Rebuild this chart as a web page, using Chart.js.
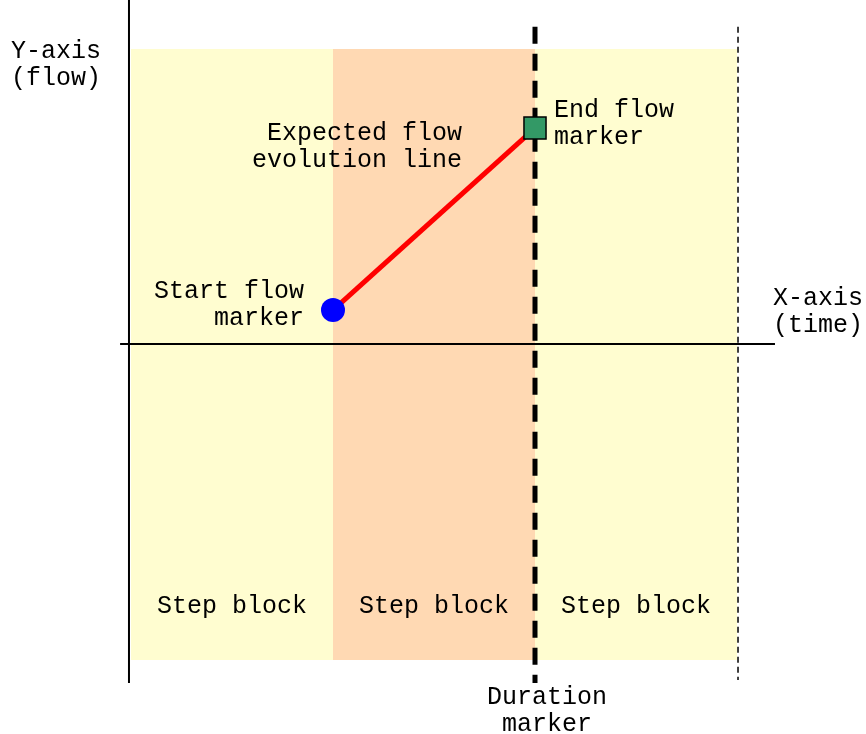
<!DOCTYPE html>
<html>
<head>
<meta charset="utf-8">
<script src="https://cdn.jsdelivr.net/npm/chart.js@4"></script>
<style>
html,body{margin:0;padding:0;background:#fff;}
#wrap{width:866px;height:734px;}
</style>
</head>
<body>
<div id="wrap"><canvas id="c" width="866" height="734"></canvas></div>
<script>
// ---- data ----
const stepStarts = [0, 1, 2];
const stepEnds = [1, 2, 3];
const stepTop = 1.0;
const stepBottom = -1.071;
const stepLabels = ["Step block", "Step block", "Step block"];
const startFlow = {x: 1, y: 0.115};
const endFlow = {x: 2, y: 0.732};
const durationX = 2;
const horizonX = 3.005;
const axisLabelY = ["Y-axis", "(flow)"];
const axisLabelX = ["X-axis", "(time)"];
const lineLabel = ["Expected flow", "evolution line"];
const startLabel = ["Start flow", "marker"];
const endLabel = ["End flow", "marker"];
const durationLabel = ["Duration", "marker"];

const stepColors = ["#FFFDD0", "#FFD9B3", "#FFFDD0"];

const datasets = [];
stepStarts.forEach((s, i) => {
  datasets.push({
    type: 'line',
    data: [{x: s, y: stepTop}, {x: stepEnds[i], y: stepTop}],
    borderWidth: 0, borderColor: 'rgba(0,0,0,0)',
    backgroundColor: stepColors[i],
    pointRadius: 0,
    fill: {value: stepBottom},
    order: 20
  });
});
// axes
datasets.push({type:'line', data:[{x:-0.01,y:1.166},{x:-0.01,y:-1.149}], borderColor:'#000', borderWidth:2, pointRadius:0, fill:false, order:10});
datasets.push({type:'line', data:[{x:-0.054,y:0},{x:3.188,y:0}], borderColor:'#000', borderWidth:2, pointRadius:0, fill:false, order:10});
// horizon dashed
datasets.push({type:'line', data:[{x:horizonX,y:1.075},{x:horizonX,y:-1.139}], borderColor:'#000', borderWidth:1.5, borderDash:[6,4], pointRadius:0, fill:false, order:10});
// duration dashed
datasets.push({type:'line', data:[{x:durationX,y:1.075},{x:durationX,y:-1.149}], borderColor:'#000', borderWidth:5, borderDash:[17,10], pointRadius:0, fill:false, order:9});
// expected line
datasets.push({type:'line', data:[startFlow, endFlow], borderColor:'#FF0000', borderWidth:5, pointRadius:0, fill:false, order:5});
// markers
datasets.push({type:'scatter', data:[startFlow], backgroundColor:'#0000FF', borderColor:'#0000FF', borderWidth:0, pointRadius:12, pointStyle:'circle', order:1});
datasets.push({type:'scatter', data:[endFlow], backgroundColor:'#339966', borderColor:'#000', borderWidth:1.5, pointRadius:15.6, pointStyle:'rect', order:1});

// text annotations: anchor (data coords) + alignment
const notes = [
  {lines: axisLabelY, x: -0.371, y: 0.993, align: 'center'},
  {lines: axisLabelX, x: 3.401, y: 0.153, align: 'center'},
  {lines: lineLabel, x: 1.639, y: 0.715, align: 'right'},
  {lines: startLabel, x: 0.856, y: 0.180, align: 'right'},
  {lines: endLabel, x: 2.094, y: 0.793, align: 'left'},
  {lines: durationLabel, x: 2.059, y: -1.197, align: 'center'}
];
stepLabels.forEach((t, i) => notes.push({lines:[t], x:(stepStarts[i]+stepEnds[i])/2, y:-0.888, align:'center'}));

const textPlugin = {
  id: 'texts',
  afterDatasetsDraw(chart) {
    const ctx = chart.ctx;
    const xs = chart.scales.x, ys = chart.scales.y;
    ctx.save();
    ctx.font = '25px "Liberation Mono", "Courier New", monospace';
    ctx.fillStyle = '#000';
    ctx.textBaseline = 'middle';
    notes.forEach(n => {
      ctx.textAlign = n.align;
      const px = xs.getPixelForValue(n.x);
      const py = ys.getPixelForValue(n.y);
      n.lines.forEach((l, k) => ctx.fillText(l, px, py + k * 27));
    });
    ctx.restore();
  }
};

new Chart(document.getElementById('c'), {
  type: 'scatter',
  data: {datasets},
  options: {
    responsive: false,
    animation: false,
    layout: {padding: 0, autoPadding: false},
    plugins: {legend: {display:false}, tooltip: {enabled:false}, title:{display:false}},
    scales: {
      x: {type:'linear', min:-0.6485, max:3.6386, display:false},
      y: {type:'linear', min:-1.322, max:1.166, display:false}
    },
    elements: {line: {tension: 0}}
  },
  plugins: [textPlugin]
});
</script>
</body>
</html>
